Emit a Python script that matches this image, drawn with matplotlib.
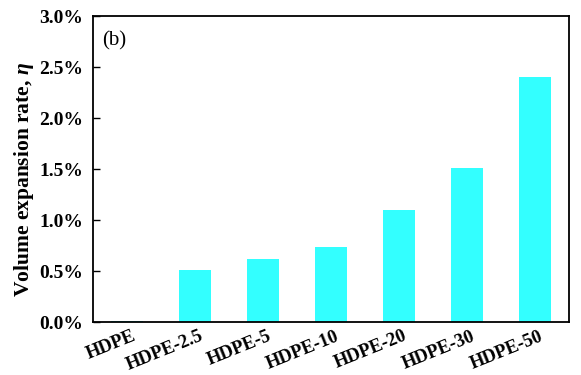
import matplotlib.pyplot as plt
import numpy as np
from matplotlib.ticker import FuncFormatter

# samples and their volume expansion rate (%)
samples = ['HDPE', 'HDPE-2.5', 'HDPE-5', 'HDPE-10', 'HDPE-20', 'HDPE-30', 'HDPE-50']
eta = [0.01, 0.51, 0.62, 0.74, 1.10, 1.51, 2.40]

plt.rcParams['font.family'] = ['Liberation Serif', 'DejaVu Serif']
plt.rcParams['mathtext.fontset'] = 'custom'
plt.rcParams['mathtext.it'] = 'Liberation Serif:italic:bold'
plt.rcParams['mathtext.rm'] = 'Liberation Serif:bold'

fig = plt.figure(figsize=(5.81, 3.75), dpi=100)
ax = fig.add_axes([0.160, 0.141, 0.819, 0.816])

x = np.arange(len(samples))
ax.bar(x, eta, width=0.47, color='#33ffff')

ax.set_xlim(-0.5, len(samples) - 0.5)
ax.set_ylim(0, 3.0)
ax.set_yticks(np.arange(0, 3.01, 0.5))
ax.yaxis.set_major_formatter(FuncFormatter(lambda v, p: f'{v:.1f}%'))
# labels hang slightly right of each bar centre
ax.set_xticks(x + 0.16)
ax.set_xticklabels(samples, rotation=22, ha='right', fontweight='bold', fontsize=13.5)
for lab in ax.get_yticklabels():
    lab.set_fontweight('bold')
    lab.set_fontsize(14)

ax.tick_params(axis='y', direction='in', length=5, width=1, pad=7)
ax.tick_params(axis='x', length=0, pad=4)
for s in ax.spines.values():
    s.set_linewidth(1.3)

ax.set_ylabel(r'Volume expansion rate, $\eta$', fontweight='bold', fontsize=15.5)
ax.yaxis.set_label_coords(-0.12, 0.465)
ax.text(0.02, 0.95, '(b)', transform=ax.transAxes, fontsize=15, va='top')

fig.savefig('out.png', dpi=100)
